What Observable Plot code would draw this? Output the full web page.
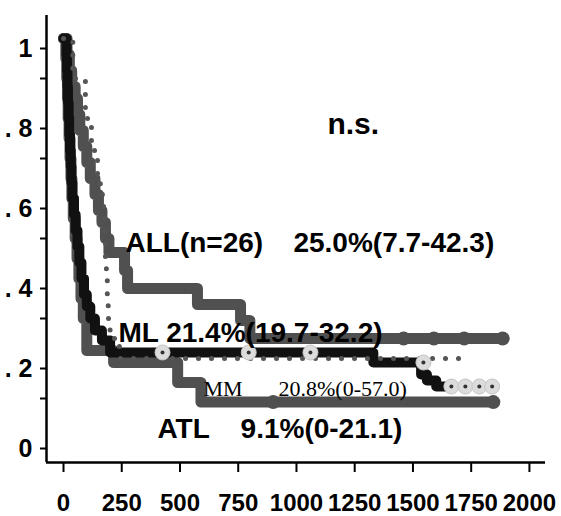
<!DOCTYPE html>
<html><head><meta charset="utf-8">
<script src="https://cdn.jsdelivr.net/npm/d3@7"></script>
<script src="https://cdn.jsdelivr.net/npm/@observablehq/plot@0.6"></script>
<style>body{margin:0;background:#fff}#chart{position:absolute;left:0;top:0}</style>
</head><body><div id="chart"></div>
<script>
// Kaplan-Meier step data (days, survival)
const allTime = [0, 15, 25, 35, 50, 60, 70, 85, 100, 115, 135, 150, 165, 180, 195, 262, 275, 575, 760, 800, 1890];
const allSurv = [1, .96, .92, .88, .85, .81, .77, .73, .69, .65, .61, .57, .54, .50, .465, .42, .375, .335, .295, .25, .25];
const allCensTime = [1460, 1590, 1720, 1885];
const allCensSurv = [.25, .25, .25, .25];

const mlTime = [0, 13, 15, 17, 19, 22, 25, 28, 31, 34, 38, 45, 52, 60, 68, 77, 88, 100, 115, 135, 165, 200, 1330, 1535, 1560, 1600, 1650];
const mlSurv = [1, .96, .92, .88, .84, .80, .76, .72, .68, .64, .60, .56, .52, .48, .44, .40, .36, .33, .30, .27, .245, .215, .19, .16, .145, .13, .13];
const mlCensTime = [425, 795, 1060, 1545, 1665, 1725, 1785, 1840];
const mlCensSurv = [.215, .215, .215, .19, .13, .13, .13, .13];

const mmTime = [0, 40, 94, 120, 146, 158, 167, 172, 176, 180, 184, 188, 192, 200, 240, 1750];
const mmSurv = [1, .9, .8, .72, .66, .63, .6, .55, .5, .45, .4, .35, .3, .25, .2, .2];

const atlTime = [0, 10, 14, 17, 20, 24, 28, 32, 36, 42, 50, 58, 66, 75, 85, 100, 215, 490, 590, 1845];
const atlSurv = [1, .95, .9, .85, .8, .75, .7, .65, .6, .55, .5, .45, .4, .35, .3, .22, .19, .14, .091, .091];
const atlCensTime = [900, 1845];
const atlCensSurv = [.091, .091];

const xTicks = [0, 250, 500, 750, 1000, 1250, 1500, 1750, 2000];
const yTicks = [0, .2, .4, .6, .8, 1];
const yTickLabels = ["0", ". 2", ". 4", ". 6", ". 8", "1"];
const yMinorTicks = [.1, .3, .5, .7, .9];

const rows = (t, s) => t.map((d, i) => ({time: d, surv: s[i]}));
const allRows = rows(allTime, allSurv), mlRows = rows(mlTime, mlSurv), mmRows = rows(mmTime, mmSurv), atlRows = rows(atlTime, atlSurv);
const allCens = rows(allCensTime, allCensSurv), mlCens = rows(mlCensTime, mlCensSurv), atlCens = rows(atlCensTime, atlCensSurv);

const xDomain = [-73, 2069];
const yDomain = [-0.06, 1.0575];
const bold = "bold";
const gray = "#505050";

const chart = Plot.plot({
  width: 561, height: 516,
  marginLeft: 46, marginRight: 16, marginTop: 15, marginBottom: 54,
  x: {domain: xDomain},
  y: {domain: yDomain},
  style: {fontFamily: "'Liberation Sans', Arial, sans-serif", background: "#fff", color: "#000"},
  marks: [
    Plot.axisX({ticks: xTicks, tickSize: 10, tickPadding: 21, fontSize: 24, fontWeight: bold, strokeWidth: 2, label: null, tickFormat: d => String(d)}),
    Plot.axisY({ticks: yTicks, tickSize: 6, tickPadding: 8, fontSize: 25, fontWeight: bold, strokeWidth: 2, dy: 10, label: null, tickFormat: d => yTickLabels[yTicks.indexOf(d)]}),
    Plot.axisY({ticks: yMinorTicks, tickSize: 6, strokeWidth: 2, label: null, tickFormat: () => ""}),
    Plot.ruleX([xDomain[0]], {stroke: "#000", strokeWidth: 2.5}),
    Plot.ruleY([yDomain[0]], {stroke: "#000", strokeWidth: 2.5}),
    // curves
    Plot.line(atlRows, {x: "time", y: "surv", curve: "step-after", stroke: gray, strokeWidth: 11, strokeLinejoin: "round", strokeLinecap: "round"}),
    Plot.dot(atlCens, {x: "time", y: "surv", r: 7, fill: gray}),
    Plot.line(allRows, {x: "time", y: "surv", curve: "step-after", stroke: gray, strokeWidth: 11, strokeLinejoin: "round", strokeLinecap: "round"}),
    Plot.dot(allCens, {x: "time", y: "surv", r: 7, fill: gray}),
    Plot.line(mlRows, {x: "time", y: "surv", curve: "step-after", stroke: "#111", strokeWidth: 10, strokeLinejoin: "round", strokeLinecap: "round"}),
    Plot.line(mmRows, {x: "time", y: "surv", curve: "step-after", stroke: "#555", strokeWidth: 5, strokeDasharray: "0,13", strokeLinecap: "round"}),
    Plot.dot(mlCens, {x: "time", y: "surv", r: 7.5, fill: "#dcdcdc", stroke: "#c4c4c4", strokeWidth: 1}),
    Plot.dot(mlCens, {x: "time", y: "surv", r: 2, fill: "#333"}),
    // annotations
    Plot.text(["n.s."], {x: 1133, y: 0.7625, textAnchor: "start", lineAnchor: "bottom", fontSize: 30, fontWeight: bold}),
    Plot.text(["ALL(n=26)"], {x: 266, y: 0.4675, textAnchor: "start", lineAnchor: "bottom", fontSize: 28, fontWeight: bold}),
    Plot.text(["25.0%(7.7-42.3)"], {x: 987, y: 0.4675, textAnchor: "start", lineAnchor: "bottom", fontSize: 28, fontWeight: bold}),
    Plot.text(["ML 21.4%(19.7-32.2)"], {x: 236, y: 0.2425, textAnchor: "start", lineAnchor: "bottom", fontSize: 28, fontWeight: bold}),
    Plot.text(["MM"], {x: 601, y: 0.1075, textAnchor: "start", lineAnchor: "bottom", fontSize: 22, fontFamily: "'Liberation Serif', serif"}),
    Plot.text(["20.8%(0-57.0)"], {x: 923, y: 0.1075, textAnchor: "start", lineAnchor: "bottom", fontSize: 22, fontFamily: "'Liberation Serif', serif"}),
    Plot.text(["ATL"], {x: 403, y: 0.0025, textAnchor: "start", lineAnchor: "bottom", fontSize: 28, fontWeight: bold}),
    Plot.text(["9.1%(0-21.1)"], {x: 760, y: 0.0025, textAnchor: "start", lineAnchor: "bottom", fontSize: 28, fontWeight: bold})
  ]
});
document.getElementById("chart").appendChild(chart);
</script>
</body></html>
